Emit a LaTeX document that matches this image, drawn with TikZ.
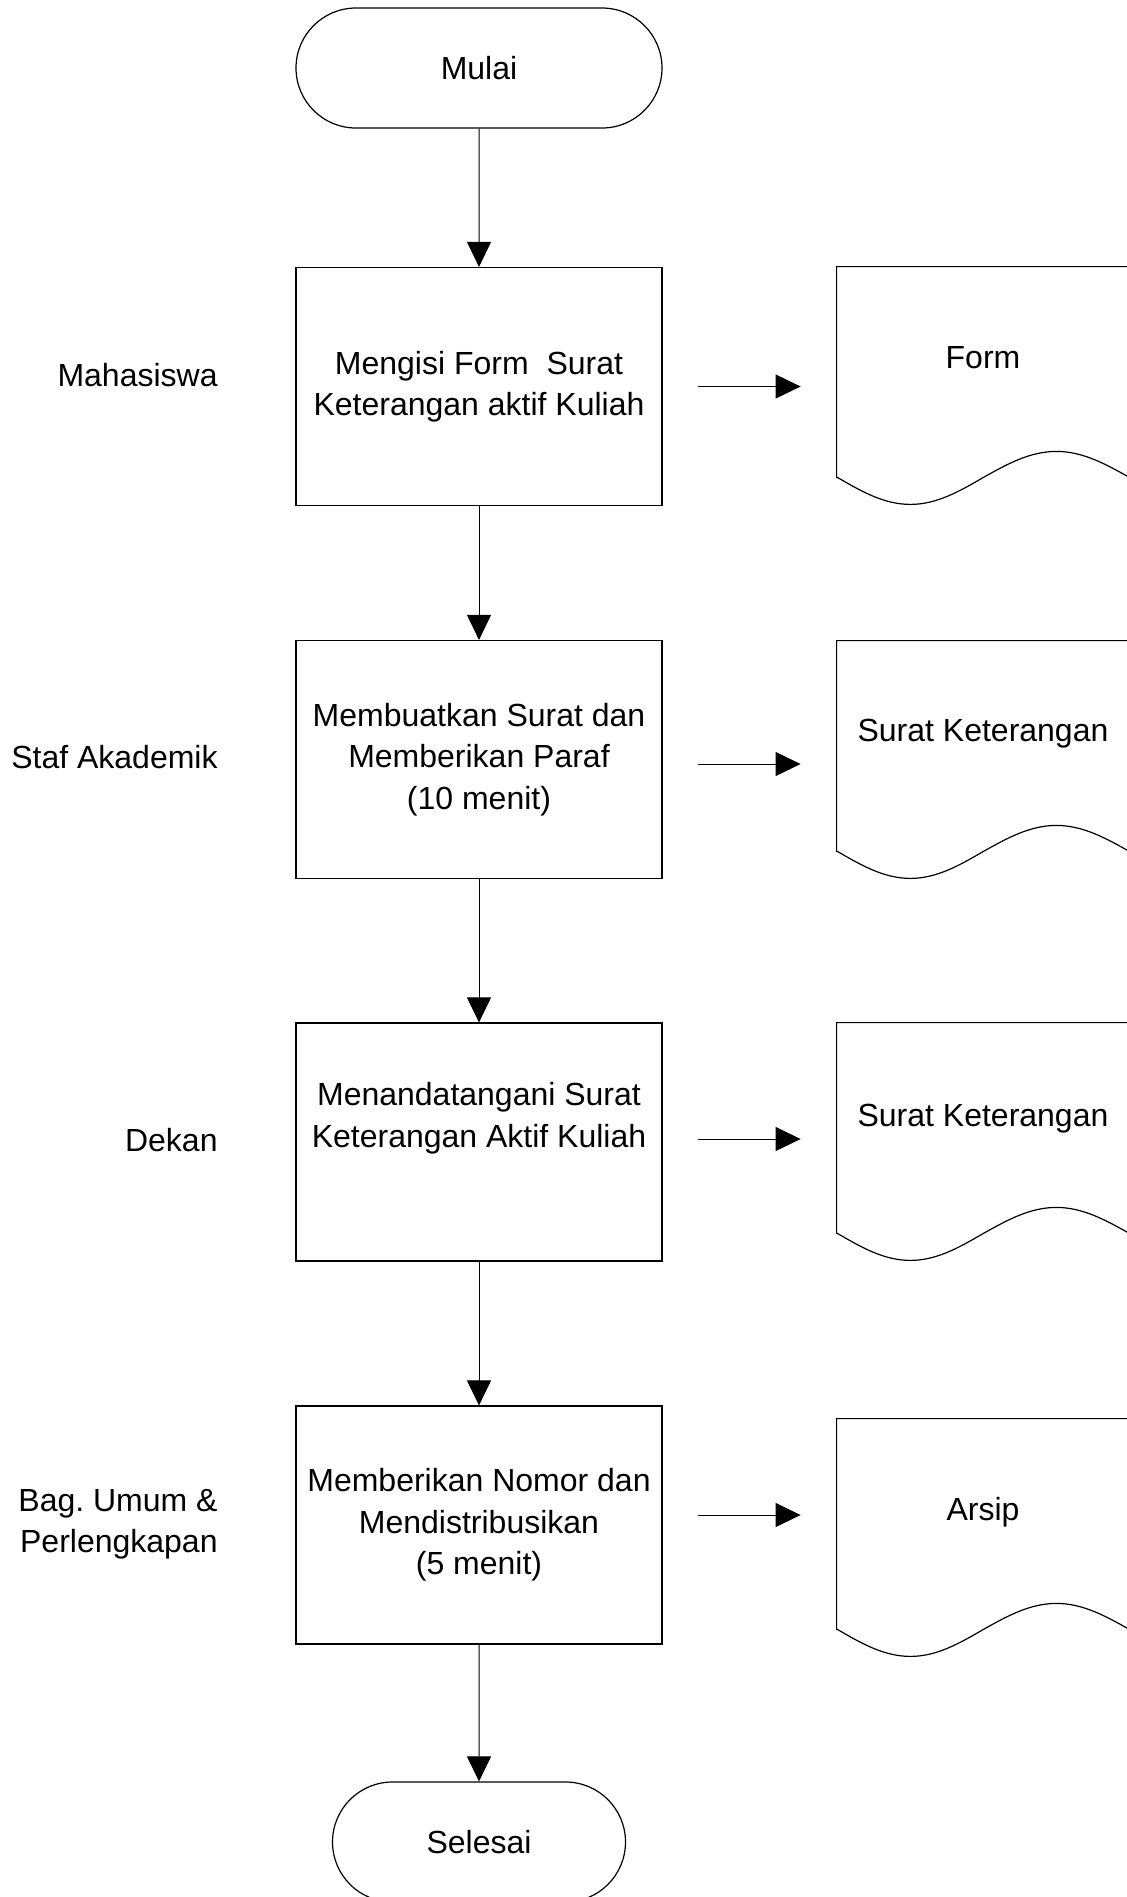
\documentclass[tikz,border=0pt]{standalone}
\usepackage{fontspec}
\setmainfont{Liberation Sans}
\usetikzlibrary{arrows.meta,shapes.misc}
\frenchspacing

\begin{document}
\begin{tikzpicture}[
    x=0.5pt, y=-0.5pt,
    every node/.style={font=\fontsize{16pt}{20.75pt}\selectfont, inner sep=0pt},
    terminal/.style={rounded rectangle, draw, line width=0.6pt, minimum height=60pt},
    process/.style={rectangle, draw, line width=0.6pt, minimum width=183pt, minimum height=119pt, align=center},
    docframe/.style={rectangle, minimum width=146pt, minimum height=105pt},
    lane/.style={anchor=east, align=right},
    arrow/.style={-{Triangle[width=12pt,length=12.5pt]}, line width=0.5pt}
]
    \useasboundingbox (0,0) rectangle (1126,1897);

    % flow
    \node[terminal, minimum width=183pt] (start) at (479,68) {Mulai};
    \node[process] (p1) at (479,386.5) {Mengisi Form~~Surat\\Keterangan aktif Kuliah};
    \node[process] (p2) at (479,759.5) {Membuatkan Surat dan\\Memberikan Paraf\\(10 menit)};
    \node[process] (p3) at (479,1142) {Menandatangani Surat\\Keterangan Aktif Kuliah\\\strut};
    \node[process] (p4) at (479,1525) {Memberikan Nomor dan\\Mendistribusikan\\(5 menit)};
    \node[terminal, minimum width=146.5pt] (stop) at (479,1842) {Selesai};

    % lanes
    \node[lane] (l1) at (218,375.5) {Mahasiswa};
    \node[lane] (l2) at (218,757.5) {Staf Akademik};
    \node[lane] (l3) at (218,1140.5) {Dekan};
    \node[lane] (l4) at (218,1524) {Bag. Umum \&\\Perlengkapan};

    % documents
    \node[docframe] (f1) at (983,372) {};
    \node[docframe] (f2) at (983,746) {};
    \node[docframe] (f3) at (983,1128) {};
    \node[docframe] (f4) at (983,1524) {};
    \node (d1) at (983,357.5) {Form};
    \node (d2) at (983,734) {Surat Keterangan};
    \node (d3) at (983,1119) {Surat Keterangan};
    \node (d4) at (983,1512) {Arsip};

    \foreach \f in {f1,f2,f3,f4}
        \draw[line width=0.6pt] (\f.south west) -- (\f.north west) -- (\f.north east) -- (\f.south east)
            sin ++(-36.5pt,13pt) cos ++(-36.5pt,-13pt) sin ++(-36.5pt,-13.5pt) cos ++(-36.5pt,13.5pt) -- cycle;

    \draw[arrow] (start) -- (p1);
    \draw[arrow] (p1) -- (p2);
    \draw[arrow] (p2) -- (p3);
    \draw[arrow] (p3) -- (p4);
    \draw[arrow] (p4) -- (stop);

    \foreach \i/\dy in {1/0pt,2/-2.25pt,3/1.5pt,4/5pt}
        \draw[arrow, shorten <=17.5pt, shorten >=18pt] ([yshift=\dy]p\i.east) coordinate (s\i) -- (s\i -| f\i.west);
\end{tikzpicture}
\end{document}
